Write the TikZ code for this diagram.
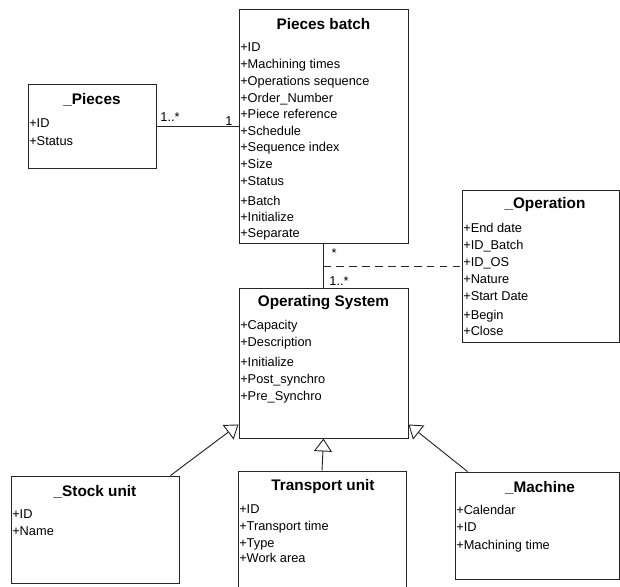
\documentclass[tikz,border=0pt]{standalone}
\usepackage{fontspec}
\setmainfont{Liberation Sans}
\usetikzlibrary{arrows.meta,fit}

\begin{document}
\begin{tikzpicture}[x=0.75pt,y=-0.75pt,
    classbox/.style={draw=black!85, line width=0.7pt, inner sep=0pt},
    ctitle/.style={font=\fontsize{11.5}{13}\selectfont\bfseries, inner sep=0pt},
    attr/.style={anchor=base west, inner sep=0pt, font=\fontsize{9.6}{11}\selectfont},
    mult/.style={inner sep=0pt, font=\fontsize{9.6}{11}\selectfont},
    assoc/.style={line width=0.7pt, black!85},
    inherit/.style={assoc, -{Triangle[open,length=9.75pt,width=13.5pt]}}]
    \clip (0,0) rectangle (620,586);
    % class boxes
    \node[classbox, fit={(28,84) (156,168)}] (pc) {};
    \node[classbox, fit={(239,9) (408,243)}] (pb) {};
    \node[classbox, fit={(462,190) (619,342)}] (op) {};
    \node[classbox, fit={(239,288) (408,438)}] (os) {};
    \node[classbox, fit={(11,476) (179,583)}] (st) {};
    \node[classbox, fit={(238,471) (406,600)}] (tu) {};
    \node[classbox, fit={(455,472) (619,579)}] (ma) {};
    % titles
    \node[ctitle] (pc-t) at (92,100) {\_Pieces};
    \node[ctitle] (pb-t) at (323.5,24) {Pieces batch};
    \node[ctitle] (op-t) at (545,205) {\_Operation};
    \node[ctitle] (os-t) at (323.5,303) {Operating System};
    \node[ctitle] (st-t) at (95,492) {\_Stock unit};
    \node[ctitle] (tu-t) at (323,487) {Transport unit};
    \node[ctitle] (ma-t) at (540,488) {\_Machine};
    % members
    \foreach \y/\txt [count=\i] in {123/+ID, 141/+Status}
        \node[attr] (pc-\i) at (29,\y+4) {\txt};
    \foreach \y/\txt [count=\i] in {47/+ID, 64/+Machining times, 81/+Operations sequence,
        98/+Order\_Number, 114/+Piece reference, 131/+Schedule, 147/+Sequence index,
        164/+Size, 181/+Status, 201/+Batch, 217/+Initialize, 233/+Separate}
        \node[attr] (pb-\i) at (240,\y+4) {\txt};
    \foreach \y/\txt [count=\i] in {228/+End date, 245/+ID\_Batch, 262/+ID\_OS,
        279/+Nature, 296/+Start Date, 315/+Begin, 331/+Close}
        \node[attr] (op-\i) at (463,\y+4) {\txt};
    \foreach \y/\txt [count=\i] in {325/+Capacity, 342/+Description, 362/+Initialize,
        379/+Post\_synchro, 396/+Pre\_Synchro}
        \node[attr] (os-\i) at (240,\y+4) {\txt};
    \foreach \y/\txt [count=\i] in {514/+ID, 531/+Name}
        \node[attr] (st-\i) at (12,\y+4) {\txt};
    \foreach \y/\txt [count=\i] in {509/+ID, 526/+Transport time, 543/+Type, 558/+Work area}
        \node[attr] (tu-\i) at (239,\y+4) {\txt};
    \foreach \y/\txt [count=\i] in {510/+Calendar, 527/+ID, 545/+Machining time}
        \node[attr] (ma-\i) at (456,\y+4) {\txt};
    % associations
    \draw[assoc] (pc.east) -- (pc.east -| pb.west);
    \node[mult] (m-pc) at (170,117) {1..*};
    \node[mult] (m-pb) at (229,121) {1};
    \draw[assoc] (pb.south) -- (os.north);
    \coordinate (lk) at (pb.south |- op.west);
    \draw[assoc, dash pattern=on 5.6pt off 4.1pt] (lk) -- (op.west);
    \node[mult] (m-pb2) at (334,253) {*};
    \node[mult] (m-os) at (339,281) {1..*};
    % generalizations
    \draw[inherit] ([xshift=-6.75pt]st.north east) -- ([yshift=10.5pt]os.south west);
    \draw[inherit] (tu.north) -- (os.south);
    \draw[inherit] ([xshift=9.75pt]ma.north west) -- ([yshift=10.5pt]os.south east);
\end{tikzpicture}
\end{document}
